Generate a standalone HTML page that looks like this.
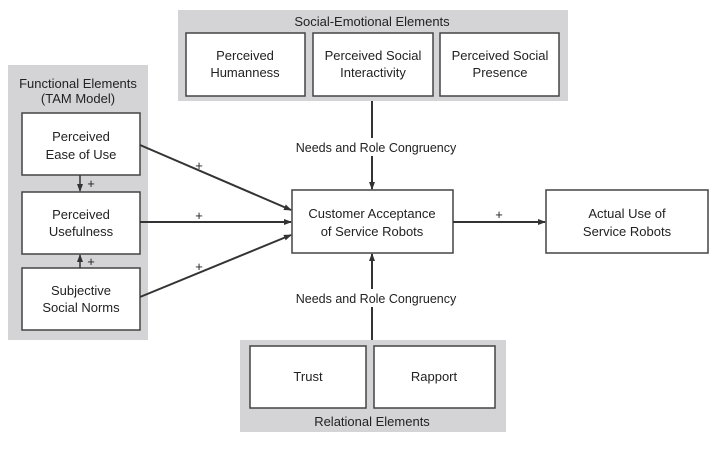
<!DOCTYPE html>
<html><head><style>
body{margin:0;background:#fff;font-family:"Liberation Sans",sans-serif;}
svg text{font-family:"Liberation Sans",sans-serif;fill:#222;}
</style></head><body>
<svg width="717" height="446" viewBox="0 0 717 446">
<defs><marker id="a" markerWidth="8" markerHeight="8" refX="7" refY="4" orient="auto" markerUnits="userSpaceOnUse"><path d="M0,1 L8,4 L0,7z" fill="#333"/></marker></defs>
<g fill="#d4d4d6">
<rect x="178" y="10" width="390" height="91"/>
<rect x="8" y="65" width="140" height="275"/>
<rect x="240" y="340" width="266" height="92"/>
</g>
<g fill="#fff" stroke="#444" stroke-width="1.5">
<rect x="186" y="33" width="119" height="63"/>
<rect x="313" y="33" width="120" height="63"/>
<rect x="440" y="33" width="119" height="63"/>
<rect x="22" y="113" width="118" height="62"/>
<rect x="22" y="192" width="118" height="62"/>
<rect x="22" y="268" width="118" height="62"/>
<rect x="292" y="190" width="161" height="63"/>
<rect x="546" y="190" width="162" height="63"/>
<rect x="250" y="346" width="116" height="62"/>
<rect x="374" y="346" width="121" height="62"/>
</g>
<g stroke="#333" stroke-width="2" marker-end="url(#a)">
<line x1="140" y1="145" x2="291" y2="210"/>
<line x1="140" y1="222" x2="291" y2="222"/>
<line x1="140" y1="297" x2="291" y2="235"/>
<line x1="453" y1="222" x2="545" y2="222"/>
<line x1="372" y1="101" x2="372" y2="189"/>
<line x1="372" y1="340" x2="372" y2="254"/>
<line x1="80" y1="175" x2="80" y2="191" stroke-width="1.5"/>
<line x1="80" y1="268" x2="80" y2="255" stroke-width="1.5"/>
</g>
<rect x="294" y="138" width="164" height="18" fill="#fff"/>
<rect x="294" y="289" width="164" height="18" fill="#fff"/>
<g font-size="13" text-anchor="middle">
<text x="372" y="26">Social-Emotional Elements</text>
<text x="245" y="60">Perceived</text><text x="245" y="77">Humanness</text>
<text x="373" y="60">Perceived Social</text><text x="373" y="77">Interactivity</text>
<text x="500" y="60">Perceived Social</text><text x="500" y="77">Presence</text>
<text x="78" y="88">Functional Elements</text><text x="78" y="103">(TAM Model)</text>
<text x="81" y="141">Perceived</text><text x="81" y="159">Ease of Use</text>
<text x="81" y="219">Perceived</text><text x="81" y="236">Usefulness</text>
<text x="81" y="295">Subjective</text><text x="81" y="312">Social Norms</text>
<text x="372" y="218">Customer Acceptance</text><text x="372" y="236">of Service Robots</text>
<text x="627" y="218">Actual Use of</text><text x="627" y="236">Service Robots</text>
<text x="308" y="381">Trust</text><text x="434" y="381">Rapport</text>
<text x="372" y="426">Relational Elements</text>
<text x="376" y="152" font-size="12.5">Needs and Role Congruency</text>
<text x="376" y="303" font-size="12.5">Needs and Role Congruency</text>
<text x="199" y="170" font-size="13">+</text>
<text x="199" y="220" font-size="13">+</text>
<text x="199" y="271" font-size="13">+</text>
<text x="499" y="219" font-size="13">+</text>
<text x="91" y="188" font-size="13">+</text>
<text x="91" y="266" font-size="13">+</text>
</g>
</svg>
</body></html>
